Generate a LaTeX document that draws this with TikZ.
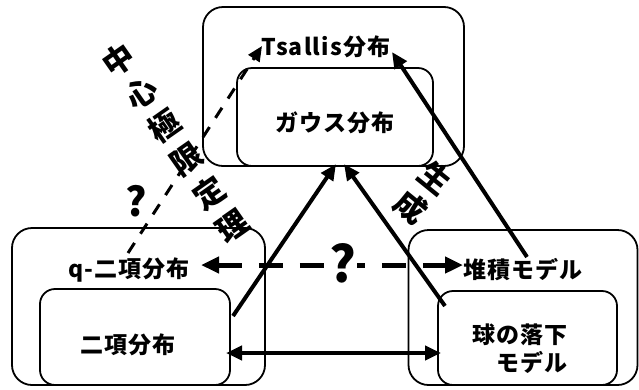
\documentclass[tikz,border=0pt]{standalone}
\usepackage{fontspec}
\setmainfont{Noto Sans CJK JP}
\newfontfamily\jpl[LetterSpace=5]{Noto Sans CJK JP}
\usetikzlibrary{arrows.meta}
\tikzset{
  outerbox/.style={draw, line width=1.8pt, rounded corners=20pt, inner sep=0pt},
  innerbox/.style={draw, line width=1.8pt, rounded corners=15pt, inner sep=0pt},
  lbl/.style={font=\jpl\bfseries\fontsize{23}{28}\selectfont, inner sep=0pt},
  vchar/.style={font=\bfseries\fontsize{31}{31}\selectfont, inner sep=0pt},
  qmark/.style={font=\bfseries\fontsize{50}{50}\selectfont, inner sep=0pt},
  solidarrow/.style={line width=4pt, -{Triangle[length=16pt,width=14pt]}},
  bothsolid/.style={line width=4pt, {Triangle[length=16pt,width=14pt]}-{Triangle[length=16pt,width=14pt]}},
  dasharrow/.style={line width=3pt, dash pattern=on 12pt off 11pt, -{Triangle[length=15pt,width=13pt]}},
  bothdash/.style={line width=5pt, dash pattern=on 24pt off 17pt, {Triangle[length=18pt,width=16pt]}-{Triangle[length=18pt,width=16pt]}}
}
\begin{document}
\begin{tikzpicture}[x=1pt,y=-1pt]
\useasboundingbox (0,0) rectangle (639,389);
% boxes
\node[outerbox, minimum width=261pt, minimum height=159pt] (topout) at (333.5,86.5) {};
\node[innerbox, minimum width=196pt, minimum height=98pt] (topin) at (335,117) {};
\node[outerbox, minimum width=253pt, minimum height=157pt] (leftout) at (138.5,306.5) {};
\node[innerbox, minimum width=190pt, minimum height=96pt] (leftin) at (135,337) {};
\node[outerbox, minimum width=229pt, minimum height=155pt] (rightout) at (523,307.5) {};
\node[innerbox, minimum width=179pt, minimum height=94pt] (rightin) at (527.5,338) {};
% texts
\node[lbl] (tsallis) at (326,47) {Tsallis分布};
\node[lbl] (gauss) at (335,123) {ガウス分布};
\node[lbl] (qbin) at (129,270) {q-二項分布};
\node[lbl] (bin) at (128,345) {二項分布};
\node[lbl] (pile) at (523,270) {堆積モデル};
\node[lbl, align=right] (ball) at (520,349) {球の落下\\モデル};
% vertical label: central limit theorem
\node[vchar, rotate=35] (clt1) at (118,60) {中};
\node[vchar, rotate=35] (clt2) at (141,93.2) {心};
\node[vchar, rotate=35] (clt3) at (164,126.4) {極};
\node[vchar, rotate=35] (clt4) at (187,159.6) {限};
\node[vchar, rotate=35] (clt5) at (210,192.8) {定};
\node[vchar, rotate=35] (clt6) at (233,226) {理};
% vertical label: generation
\node[vchar, rotate=-39] (gen1) at (435,178) {生};
\node[vchar, rotate=-39] (gen2) at (411,207) {成};
% arrow end coordinates
\coordinate (binout) at (233,316);
\coordinate (gaussL) at (336,164);
\coordinate (ballout) at (445,306);
\coordinate (gaussR) at (344,164);
\coordinate (pileout) at (527,257);
\coordinate (tsR) at (392,52);
\coordinate (qout) at (128,253);
\coordinate (tsL) at (262,46);
\coordinate (qR) at (201,265);
\coordinate (pileL) at (463,265);
\coordinate (binR) at (226,353);
\coordinate (ballL) at (441,353);
% arrows
\draw[dasharrow] (qout) -- (tsL);
\draw[bothdash] (qR) -- (pileL);
\draw[solidarrow] (binout) -- (gaussL);
\draw[solidarrow] (ballout) -- (gaussR);
\draw[solidarrow] (pileout) -- (tsR);
\draw[bothsolid] (binR) -- (ballL);
% question marks
\node[qmark, fill=white, inner xsep=1pt] (q2) at (343,263) {?};
\node[qmark, font=\bfseries\fontsize{40}{40}\selectfont] (q1) at (136,201) {?};
\end{tikzpicture}
\end{document}
